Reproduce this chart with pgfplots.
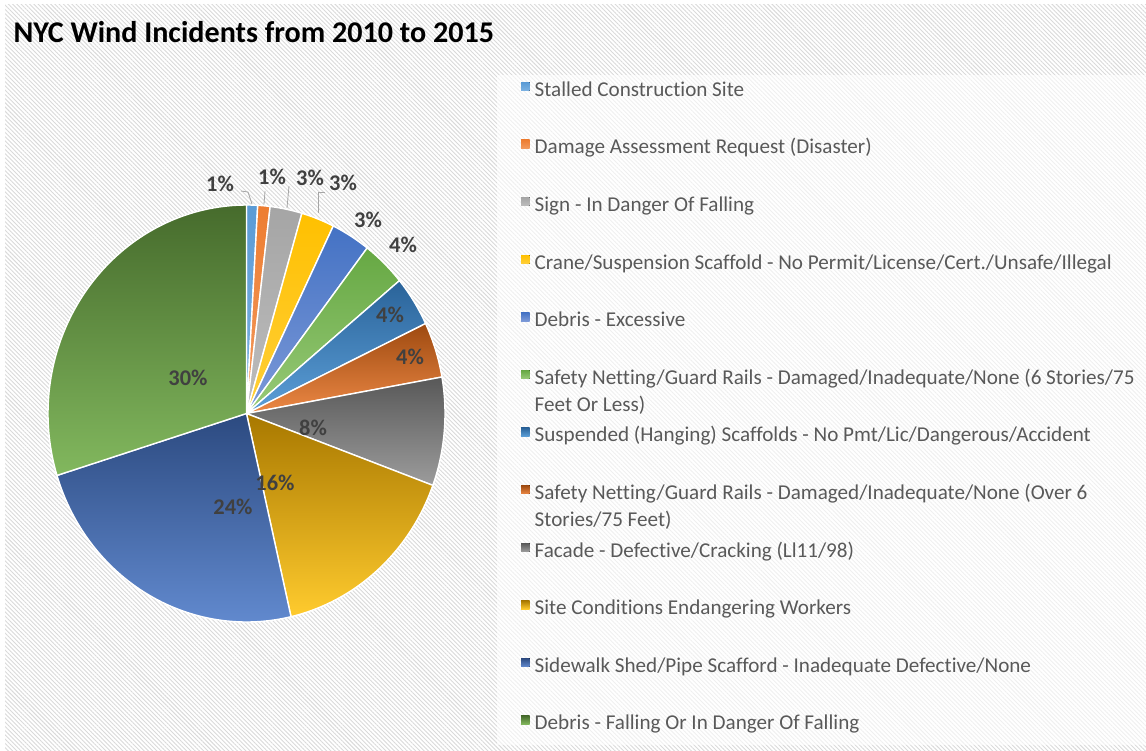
\documentclass[border=0pt]{standalone}
\usepackage{pgfplots}
\pgfplotsset{compat=1.18}
\usepackage{pgfplotstable}
\usetikzlibrary{patterns.meta}
\usepackage{fontspec}
\setmainfont{Carlito}[Ligatures={NoCommon}]

% slice colours: top (dark) and bottom (light) of the gradient
\definecolor{ctop0}{HTML}{5B9BD5}\definecolor{cbot0}{HTML}{7DB2E2}
\definecolor{ctop1}{HTML}{ED7D31}\definecolor{cbot1}{HTML}{F29A5E}
\definecolor{ctop2}{HTML}{A5A5A5}\definecolor{cbot2}{HTML}{BDBDBD}
\definecolor{ctop3}{HTML}{FFC000}\definecolor{cbot3}{HTML}{FFCF3A}
\definecolor{ctop4}{HTML}{4472C4}\definecolor{cbot4}{HTML}{7D9AD8}
\definecolor{ctop5}{HTML}{66A843}\definecolor{cbot5}{HTML}{98CA78}
\definecolor{ctop6}{HTML}{2A6399}\definecolor{cbot6}{HTML}{5C9FD8}
\definecolor{ctop7}{HTML}{9E4A10}\definecolor{cbot7}{HTML}{EC8845}
\definecolor{ctop8}{HTML}{585858}\definecolor{cbot8}{HTML}{9C9C9C}
\definecolor{ctop9}{HTML}{A87800}\definecolor{cbot9}{HTML}{FFCB2E}
\definecolor{ctop10}{HTML}{2C4A80}\definecolor{cbot10}{HTML}{6189CE}
\definecolor{ctop11}{HTML}{466B2C}\definecolor{cbot11}{HTML}{82B85E}
\definecolor{lbltext}{HTML}{404040}
\definecolor{legtext}{HTML}{595959}
\definecolor{leader}{HTML}{A6A6A6}

% share in percent, label position (pixels, y downwards)
\pgfplotstableread{
pct  lx  ly
0.9  220 184
1.0  272 177
2.6  310 178
2.7  343 183
3.2  368 220
3.6  403 245
3.9  390 315
4.3  410 357
8.4  313 428
15.8 275 483
23.8 233 507
29.8 188 378
}\piedata

\def\cx{246.5}\def\cy{413.5}\def\rx{198.5}\def\ry{208.5}

\begin{document}
\begin{tikzpicture}
% start/end angle of each slice, clockwise from 12 o'clock
\gdef\acc{0}%
\foreach \i in {0,...,11}{%
  \pgfplotstablegetelem{\i}{pct}\of\piedata
  \pgfmathsetmacro\b{\acc+3.6*\pgfplotsretval}%
  \expandafter\xdef\csname sa\i\endcsname{\acc}%
  \expandafter\xdef\csname ea\i\endcsname{\b}%
  \xdef\acc{\b}%
}%
\begin{axis}[
    scale only axis, width=1146bp, height=751bp,
    xmin=0, xmax=1146, ymin=0, ymax=751, y dir=reverse,
    hide axis, clip=false,
    /pgf/number format/assume math mode=true,
    legend image code/.code={\fill[#1, draw=none] (0bp,1bp) rectangle (8.5bp,9.5bp);},
    legend cell align=left,
    legend style={at={(axis cs:521,82)}, anchor=north west,
        draw=none, fill=none, inner sep=0pt, row sep=38.6bp, column sep=5bp,
        font=\fontsize{21.2}{26}\selectfont, text=legtext,
        nodes={inner sep=0pt, text height=14bp, text depth=5bp}},
]
% hatched chart background
\addplot[forget plot, draw=none, pattern={Lines[angle=135, distance=3bp, line width=0.9bp]},
    pattern color=black!15] coordinates {(5,5) (1146,5) (1146,751) (5,751)} -- cycle;
\addplot[forget plot, draw=none] coordinates {(0,0) (1146,751)};
% translucent legend panel
\addplot[forget plot, draw=none, fill=white, fill opacity=0.6]
    coordinates {(497,75) (1146,75) (1146,745) (497,745)} -- cycle;

\pgfplotsinvokeforeach{0,...,11}{%
  \addplot[draw=white, line width=1.4bp, top color=ctop#1, bottom color=cbot#1,
      domain=\csname sa#1\endcsname:\csname ea#1\endcsname, samples=80]
      ({\cx+\rx*sin(x)},{\cy-\ry*cos(x)}) -- (axis cs:\cx,\cy) -- cycle;
}

% leader lines of the small slices
\addplot[forget plot, leader, line width=0.8bp] coordinates {(241,191) (248,192) (252,204)};
\addplot[forget plot, leader, line width=0.8bp] coordinates {(265,191) (264,204)};
\addplot[forget plot, leader, line width=0.8bp] coordinates {(289,186) (287,208)};
\addplot[forget plot, leader, line width=0.8bp] coordinates {(325,192) (318,192) (318,213)};

% data labels
\addplot[forget plot, only marks, mark=none, point meta=explicit,
    nodes near coords={\pgfmathprintnumber[fixed,precision=0]{\pgfplotspointmeta}\%},
    nodes near coords style={anchor=center, text=lbltext,
        font=\bfseries\fontsize{22.5}{27}\selectfont}]
    table[x=lx, y=ly, meta=pct] {\piedata};

\node[anchor=base west, font=\bfseries\fontsize{30.2}{36}\selectfont] at (axis cs:10,43)
    {NYC Wind Incidents from 2010 to 2015};

\legend{Stalled Construction Site,
  Damage Assessment Request (Disaster),
  Sign - In Danger Of Falling,
  Crane/Suspension Scaffold - No Permit/License/Cert./Unsafe/Illegal,
  Debris - Excessive,
  {\vtop{\baselineskip=27bp\hbox{Safety Netting/Guard Rails - Damaged/Inadequate/None (6 Stories/75}\hbox{Feet Or Less)}}},
  Suspended (Hanging) Scaffolds - No Pmt/Lic/Dangerous/Accident,
  {\vtop{\baselineskip=27bp\hbox{Safety Netting/Guard Rails - Damaged/Inadequate/None (Over 6}\hbox{Stories/75 Feet)}}},
  Facade - Defective/Cracking (Ll11/98),
  Site Conditions Endangering Workers,
  Sidewalk Shed/Pipe Scafford - Inadequate Defective/None,
  Debris - Falling Or In Danger Of Falling}
\end{axis}
\end{tikzpicture}
\end{document}
